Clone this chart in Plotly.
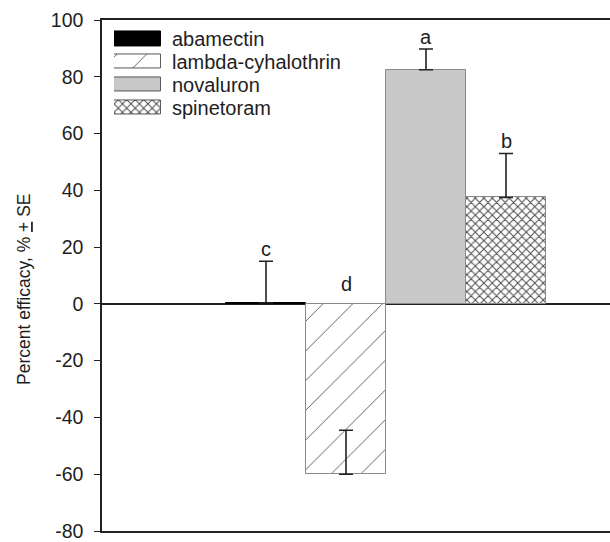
import plotly.graph_objects as go

# Treatments, mean efficacy (%) and one-sided standard errors
treatments = ["abamectin", "lambda-cyhalothrin", "novaluron", "spinetoram"]
efficacy = [0.4, -60.0, 82.5, 37.5]
se = [14.6, 15.5, 7.3, 15.5]
letters = ["c", "d", "a", "b"]

# Per-treatment fill styles
fill_colors = ["#000000", "#ffffff", "#c8c8c8", "#ffffff"]
pattern_shapes = ["", "/", "", "x"]
pattern_sizes = [8, 21, 8, 6]
pattern_solidity = [0.3, 0.045, 0.3, 0.3]
pattern_colors = ["#000000", "#5a5a5a", "#000000", "#4a4a4a"]
outline_colors = ["#000000", "#8a8a8a", "#8a8a8a", "#8a8a8a"]

y_ticks = [-80, -60, -40, -20, 0, 20, 40, 60, 80, 100]
y_title = 'Percent efficacy, % <span style="text-decoration:underline">+</span> SE'

FONT = "Liberation Sans, Arial, sans-serif"
TEXT = "#1e1e1e"

fig = go.Figure()

for i, name in enumerate(treatments):
    pattern = dict(
        shape=pattern_shapes[i],
        size=pattern_sizes[i],
        solidity=pattern_solidity[i],
        fgcolor=pattern_colors[i],
        bgcolor=fill_colors[i],
        fillmode="replace",
    )
    # Main bar with an upward (one-sided) error bar
    fig.add_trace(go.Bar(
        x=[i],
        y=[efficacy[i]],
        width=1.0,
        name=name,
        marker=dict(
            color=fill_colors[i],
            line=dict(color=outline_colors[i], width=1),
            pattern=pattern,
        ),
        error_y=dict(
            type="data", symmetric=False, array=[se[i]], arrayminus=[0],
            color="#222222", thickness=1.6, width=7,
        ),
        showlegend=False,
        hoverinfo="skip",
    ))
    # Legend swatch as a horizontal bar on a small inset axis
    fig.add_trace(go.Bar(
        x=[1],
        y=[i],
        orientation="h",
        width=0.62,
        xaxis="x2", yaxis="y2",
        marker=dict(
            color=fill_colors[i],
            line=dict(color="#000000" if i == 0 else "#555555", width=1),
            pattern=pattern,
        ),
        showlegend=False,
        hoverinfo="skip",
    ))
    # Legend label
    fig.add_annotation(
        x=0.134, xref="paper", y=i, yref="y2",
        text=name, showarrow=False, xanchor="left", yanchor="middle",
        font=dict(family=FONT, size=20, color=TEXT),
    )
    # Significance letter above the bar / error bar
    top = efficacy[i] + se[i] if efficacy[i] > 0 else 0
    fig.add_annotation(
        x=i, y=top, xref="x", yref="y",
        text=letters[i], showarrow=False, xanchor="center", yanchor="bottom",
        yshift=-1 if efficacy[i] > 0 else 7,
        font=dict(family=FONT, size=20, color=TEXT),
    )

# Rotated y-axis title
fig.add_annotation(
    x=-0.1535, xref="paper", y=0.4717, yref="paper",
    text=y_title, textangle=-90, showarrow=False,
    xanchor="center", yanchor="middle",
    font=dict(family=FONT, size=17.5, color=TEXT),
)

fig.update_layout(
    width=610, height=542,
    margin=dict(l=102, r=0, t=20, b=9),
    paper_bgcolor="white", plot_bgcolor="white",
    barmode="overlay",
    bargap=0,
    xaxis=dict(
        range=[-2.05, 4.3],
        showticklabels=False, ticks="",
        showgrid=False, zeroline=False,
        showline=True, mirror=True, linecolor="#222222", linewidth=1.5,
    ),
    yaxis=dict(
        range=[-80, 100],
        tickvals=y_ticks,
        ticktext=[str(t) for t in y_ticks],
        ticks="outside", ticklen=6, tickwidth=1.2, tickcolor="#222222",
        ticklabelstandoff=7,
        ticklabeloverflow="allow",
        tickfont=dict(family=FONT, size=19.5, color=TEXT),
        showgrid=False,
        zeroline=True, zerolinecolor="#222222", zerolinewidth=1.5,
        showline=True, linecolor="#222222", linewidth=1.5,
    ),
    xaxis2=dict(
        domain=[0.0236, 0.1161], range=[0, 1], anchor="y2",
        visible=False, fixedrange=True,
    ),
    yaxis2=dict(
        domain=[0.806, 0.9854], range=[3.5, -0.5], anchor="x2",
        visible=False, fixedrange=True,
    ),
)

fig.write_html("out.html")
